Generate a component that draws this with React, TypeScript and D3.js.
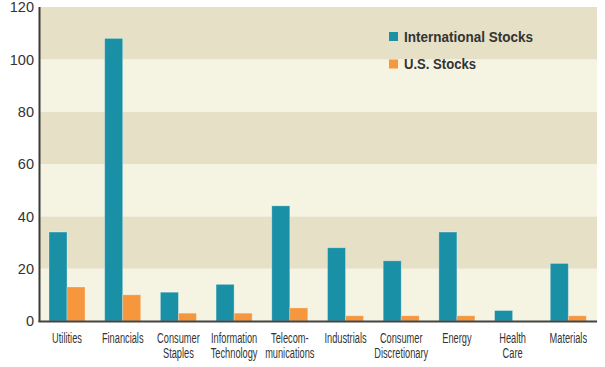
import React, { useEffect, useRef } from 'react'
import * as d3 from 'd3'

const categories = [
  ['Utilities'],
  ['Financials'],
  ['Consumer', 'Staples'],
  ['Information', 'Technology'],
  ['Telecom-', 'munications'],
  ['Industrials'],
  ['Consumer', 'Discretionary'],
  ['Energy'],
  ['Health', 'Care'],
  ['Materials'],
]
const intlStocks = [34, 108, 11, 14, 44, 28, 23, 34, 4, 22]
const usStocks = [13, 10, 3, 3, 5, 2, 2, 2, 0, 2]
const yTicks = [0, 20, 40, 60, 80, 100, 120]
const seriesNames = ['International Stocks', 'U.S. Stocks']

const TEAL = '#1a90a6'
const ORANGE = '#f6963d'

export default function App() {
  const ref = useRef<SVGSVGElement>(null)

  useEffect(() => {
    const svg = d3.select(ref.current)
    svg.selectAll('*').remove()

    const left = 40, right = 597, top = 7, bottom = 321
    const x = d3.scaleBand<number>().domain(d3.range(categories.length)).range([left, right])
    const y = d3.scaleLinear().domain([0, 120]).range([bottom, top])

    // background bands
    const bands = d3.pairs(yTicks)
    svg.append('g').selectAll('rect').data(bands).enter().append('rect')
      .attr('x', left).attr('width', right - left)
      .attr('y', d => y(d[1])).attr('height', d => y(d[0]) - y(d[1]))
      .attr('fill', (d, i) => (i % 2 === 0 ? '#f5f3e2' : '#e6e0c6'))

    const barW = 18
    const offset = 9
    const g = svg.append('g')
    g.selectAll('rect.intl').data(intlStocks).enter().append('rect')
      .attr('x', (d, i) => x(i)! + offset)
      .attr('y', d => y(d)).attr('width', barW).attr('height', d => y(0) - y(d))
      .attr('fill', TEAL).attr('stroke', '#ffffff').attr('stroke-opacity', 0.35).attr('stroke-width', 0.8)
    g.selectAll('rect.us').data(usStocks).enter().append('rect')
      .attr('x', (d, i) => x(i)! + offset + barW)
      .attr('y', d => y(d)).attr('width', barW).attr('height', d => y(0) - y(d))
      .attr('fill', ORANGE).attr('stroke', '#ffffff').attr('stroke-opacity', 0.35).attr('stroke-width', 0.8)

    // axes lines
    svg.append('line').attr('x1', left - 0.5).attr('x2', left - 0.5).attr('y1', top).attr('y2', bottom + 1)
      .attr('stroke', '#3a3a3a').attr('stroke-width', 2)
    svg.append('line').attr('x1', left - 1.5).attr('x2', right).attr('y1', bottom + 0.5).attr('y2', bottom + 0.5)
      .attr('stroke', '#444').attr('stroke-width', 2)

    // y tick labels
    svg.append('g').selectAll('text').data(yTicks).enter().append('text')
      .attr('x', 34).attr('y', d => y(d)).attr('dy', '0.36em')
      .attr('text-anchor', 'end')
      .attr('font-family', 'Liberation Sans, Arial, sans-serif').attr('font-size', 14.5)
      .attr('fill', '#333').text(d => d)

    // x labels (condensed)
    const xl = svg.append('g')
    categories.forEach((lines, i) => {
      const cx = x(i)! + offset + barW
      lines.forEach((ln, j) => {
        xl.append('text')
          .attr('transform', `translate(${cx},${343 + j * 15}) scale(0.66,1)`)
          .attr('text-anchor', 'middle')
          .attr('font-family', 'Liberation Sans, Arial, sans-serif').attr('font-size', 14)
          .attr('fill', '#333').text(ln)
      })
    })

    // legend
    const lg = svg.append('g')
    seriesNames.forEach((name, i) => {
      const ly = 32 + i * 27.5
      lg.append('rect').attr('x', 389).attr('y', ly).attr('width', 9).attr('height', 9)
        .attr('fill', i === 0 ? TEAL : ORANGE)
      lg.append('text').attr('x', 404).attr('y', ly + 9.5)
        .attr('font-family', 'Liberation Sans, Arial, sans-serif').attr('font-weight', 'bold')
        .attr('font-size', 14).attr('fill', '#333')
        .attr('textLength', i === 0 ? 129 : 72).attr('lengthAdjust', 'spacingAndGlyphs')
        .text(name)
    })
  }, [])

  return (
    <svg ref={ref} width={605} height={367}
      style={{ position: 'absolute', left: 0, top: 0, background: '#fff' }} />
  )
}
